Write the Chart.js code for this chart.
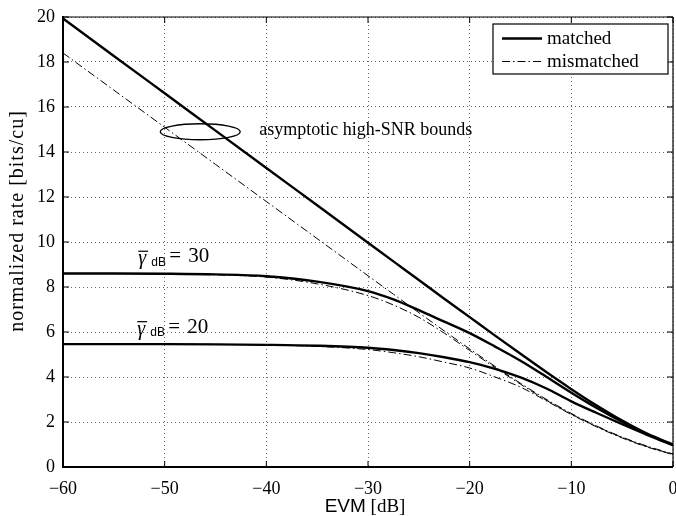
<!DOCTYPE html>
<html>
<head>
<meta charset="utf-8">
<script src="https://cdn.jsdelivr.net/npm/chart.js@4.4.1/dist/chart.umd.min.js"></script>
<style>
  html, body { margin: 0; padding: 0; background: #fff; }
  #wrap { width: 676px; height: 516px; position: relative; }
</style>
</head>
<body>
<div id="wrap"><canvas id="rateChart"></canvas></div>
<script>
// EVM axis samples [dB]
const evmDb = [-60, -55, -50, -45, -40, -35, -30, -27.5, -25, -22.5, -20, -17.5, -15, -12.5, -10, -7.5, -5, -2.5, 0];

// asymptotic high-SNR bounds
const boundMatched = [19.93, 18.27, 16.61, 14.95, 13.29, 11.63, 9.97, 9.14, 8.31, 7.48, 6.66, 5.84, 5.03, 4.23, 3.46, 2.73, 2.06, 1.47, 1.00];
const boundMismatched = [18.40, 16.75, 15.10, 13.45, 11.80, 10.15, 8.50, 7.68, 6.86, 6.05, 5.25, 4.47, 3.72, 3.02, 2.38, 1.82, 1.33, 0.92, 0.58];

// gamma_dB = 30
const matched30 = [8.60, 8.60, 8.59, 8.56, 8.48, 8.24, 7.82, 7.45, 6.97, 6.46, 5.95, 5.35, 4.72, 4.02, 3.30, 2.62, 2.00, 1.45, 0.98];
const mismatched30 = [8.60, 8.60, 8.58, 8.54, 8.44, 8.14, 7.62, 7.20, 6.65, 5.95, 5.18, 4.42, 3.68, 2.98, 2.35, 1.80, 1.31, 0.90, 0.56];

// gamma_dB = 20
const matched20 = [5.46, 5.46, 5.46, 5.45, 5.43, 5.39, 5.30, 5.20, 5.06, 4.88, 4.66, 4.36, 3.98, 3.50, 2.92, 2.40, 1.90, 1.42, 0.97];
const mismatched20 = [5.46, 5.46, 5.46, 5.45, 5.42, 5.36, 5.22, 5.08, 4.90, 4.66, 4.40, 4.00, 3.55, 2.95, 2.33, 1.78, 1.29, 0.88, 0.55];

// ticks
const xTicks = [-60, -50, -40, -30, -20, -10, 0];
const yTicks = [0, 2, 4, 6, 8, 10, 12, 14, 16, 18, 20];

const SERIF = '"Liberation Serif", "Times New Roman", serif';
const SANS = '"Liberation Sans", Arial, sans-serif';
const DASHDOT = [8, 3, 1.5, 3];

function pts(ys) {
  return evmDb.map((x, i) => ({ x: x, y: ys[i] }));
}

function solid(label, ys) {
  return { label, data: pts(ys), borderColor: '#000', borderWidth: 2.4, pointRadius: 0, cubicInterpolationMode: 'monotone' };
}

function dashdot(label, ys) {
  return { label, data: pts(ys), borderColor: '#000', borderWidth: 1, borderDash: DASHDOT, pointRadius: 0, cubicInterpolationMode: 'monotone' };
}

function line(ctx, x1, y1, x2, y2) {
  ctx.beginPath();
  ctx.moveTo(x1, y1);
  ctx.lineTo(x2, y2);
  ctx.stroke();
}

// overlined gamma with dB subscript
function gammaLabel(ctx, px, py, val) {
  ctx.textAlign = 'left';
  ctx.textBaseline = 'alphabetic';
  ctx.font = 'italic 20px ' + SERIF;
  ctx.fillText('\u03b3', px, py + 2);
  const w = ctx.measureText('\u03b3').width;
  ctx.lineWidth = 1.2;
  line(ctx, px, py - 11, px + w + 2, py - 11);
  ctx.font = '12px ' + SANS;
  ctx.fillText('dB', px + 13, py + 3.5);
  ctx.font = '21px ' + SERIF;
  ctx.fillText('=', px + 31, py);
  ctx.fillText(val, px + 50, py);
}

// frame, inner ticks, legend, annotations, axis titles
const decor = {
  id: 'decor',
  afterDraw(chart) {
    const { ctx, chartArea: a, scales: { x, y } } = chart;
    ctx.save();
    ctx.setLineDash([]);
    ctx.strokeStyle = '#000';
    ctx.fillStyle = '#000';

    // inward tick marks
    ctx.lineWidth = 1;
    xTicks.forEach(v => {
      const px = x.getPixelForValue(v);
      line(ctx, px, a.bottom, px, a.bottom - 6);
      line(ctx, px, a.top, px, a.top + 6);
    });
    yTicks.forEach(v => {
      const py = y.getPixelForValue(v);
      line(ctx, a.left, py, a.left + 6, py);
      line(ctx, a.right, py, a.right - 6, py);
    });

    // box
    ctx.lineWidth = 1.2;
    line(ctx, a.left, a.top, a.right, a.top);
    line(ctx, a.right, a.top, a.right, a.bottom);
    ctx.lineWidth = 2;
    line(ctx, a.left, a.top - 1, a.left, a.bottom);
    line(ctx, a.left - 1, a.bottom, a.right, a.bottom);

    // legend
    const lx = a.right - 180, ly = a.top + 7;
    ctx.fillStyle = '#fff';
    ctx.fillRect(lx, ly, 175, 50);
    ctx.fillStyle = '#000';
    ctx.lineWidth = 1.2;
    ctx.strokeRect(lx, ly, 175, 50);
    ctx.lineWidth = 2.4;
    line(ctx, lx + 9, ly + 14.5, lx + 49, ly + 14.5);
    ctx.lineWidth = 1;
    ctx.setLineDash(DASHDOT);
    line(ctx, lx + 9, ly + 37.5, lx + 49, ly + 37.5);
    ctx.setLineDash([]);
    ctx.font = '19px ' + SERIF;
    ctx.textAlign = 'left';
    ctx.textBaseline = 'alphabetic';
    ctx.fillText('matched', lx + 54, ly + 19.5);
    ctx.fillText('mismatched', lx + 54, ly + 42.5);

    // ellipse around the bounds
    ctx.lineWidth = 1.3;
    ctx.beginPath();
    ctx.ellipse(x.getPixelForValue(-46.5), y.getPixelForValue(14.9), 40, 8, 0, 0, Math.PI * 2);
    ctx.stroke();
    ctx.font = '18px ' + SERIF;
    ctx.fillText('asymptotic high-SNR bounds', x.getPixelForValue(-40.7), y.getPixelForValue(14.75));

    gammaLabel(ctx, x.getPixelForValue(-52.6), y.getPixelForValue(9.1), '30');
    gammaLabel(ctx, x.getPixelForValue(-52.7), y.getPixelForValue(5.97), '20');

    // axis titles
    ctx.textBaseline = 'middle';
    ctx.font = '19px ' + SANS;
    const evmW = ctx.measureText('EVM').width;
    ctx.font = '19px ' + SERIF;
    const dbW = ctx.measureText(' [dB]').width;
    const cx = (a.left + a.right) / 2 - 3 - (evmW + dbW) / 2;
    ctx.font = '19px ' + SANS;
    ctx.fillText('EVM', cx, 507);
    ctx.font = '19px ' + SERIF;
    ctx.fillText(' [dB]', cx + evmW, 507);

    ctx.translate(18, 221);
    ctx.rotate(-Math.PI / 2);
    ctx.textAlign = 'center';
    ctx.font = '20px ' + SERIF;
    if ('letterSpacing' in ctx) ctx.letterSpacing = '1px';
    ctx.fillText('normalized rate [bits/cu]', 0, 0);
    ctx.restore();
  }
};

function fixX(s) {
  s.height = 49;
  s.paddingLeft = 0; s.paddingRight = 0; s.paddingTop = 0; s.paddingBottom = 0;
}
function fixY(s) {
  s.width = 63;
  s.paddingLeft = 0; s.paddingRight = 0; s.paddingTop = 0; s.paddingBottom = 0;
}

const fmtTick = v => (v < 0 ? '\u2212' + Math.abs(v) : String(v));

new Chart(document.getElementById('rateChart'), {
  type: 'line',
  data: {
    datasets: [
      solid('matched', boundMatched),
      dashdot('mismatched', boundMismatched),
      solid('matched 30', matched30),
      dashdot('mismatched 30', mismatched30),
      solid('matched 20', matched20),
      dashdot('mismatched 20', mismatched20)
    ]
  },
  options: {
    responsive: true,
    maintainAspectRatio: false,
    animation: false,
    layout: { padding: { top: 17, right: 3, left: 0, bottom: 0 } },
    plugins: {
      legend: { display: false },
      tooltip: { enabled: false }
    },
    scales: {
      x: {
        type: 'linear',
        min: -60,
        max: 0,
        afterFit: fixX,
        afterBuildTicks: s => { s.ticks = xTicks.map(v => ({ value: v })); },
        ticks: { callback: fmtTick, color: '#000', padding: 11, maxRotation: 0, font: { family: SERIF, size: 18 } },
        grid: { color: 'rgba(0,0,0,0.6)', lineWidth: 1, drawTicks: false },
        border: { display: false, dash: [1, 3] }
      },
      y: {
        type: 'linear',
        min: 0,
        max: 20,
        afterFit: fixY,
        afterBuildTicks: s => { s.ticks = yTicks.map(v => ({ value: v })); },
        ticks: { color: '#000', padding: 8, font: { family: SERIF, size: 18 } },
        grid: { color: 'rgba(0,0,0,0.6)', lineWidth: 1, drawTicks: false },
        border: { display: false, dash: [1, 3] }
      }
    }
  },
  plugins: [decor]
});
</script>
</body>
</html>
